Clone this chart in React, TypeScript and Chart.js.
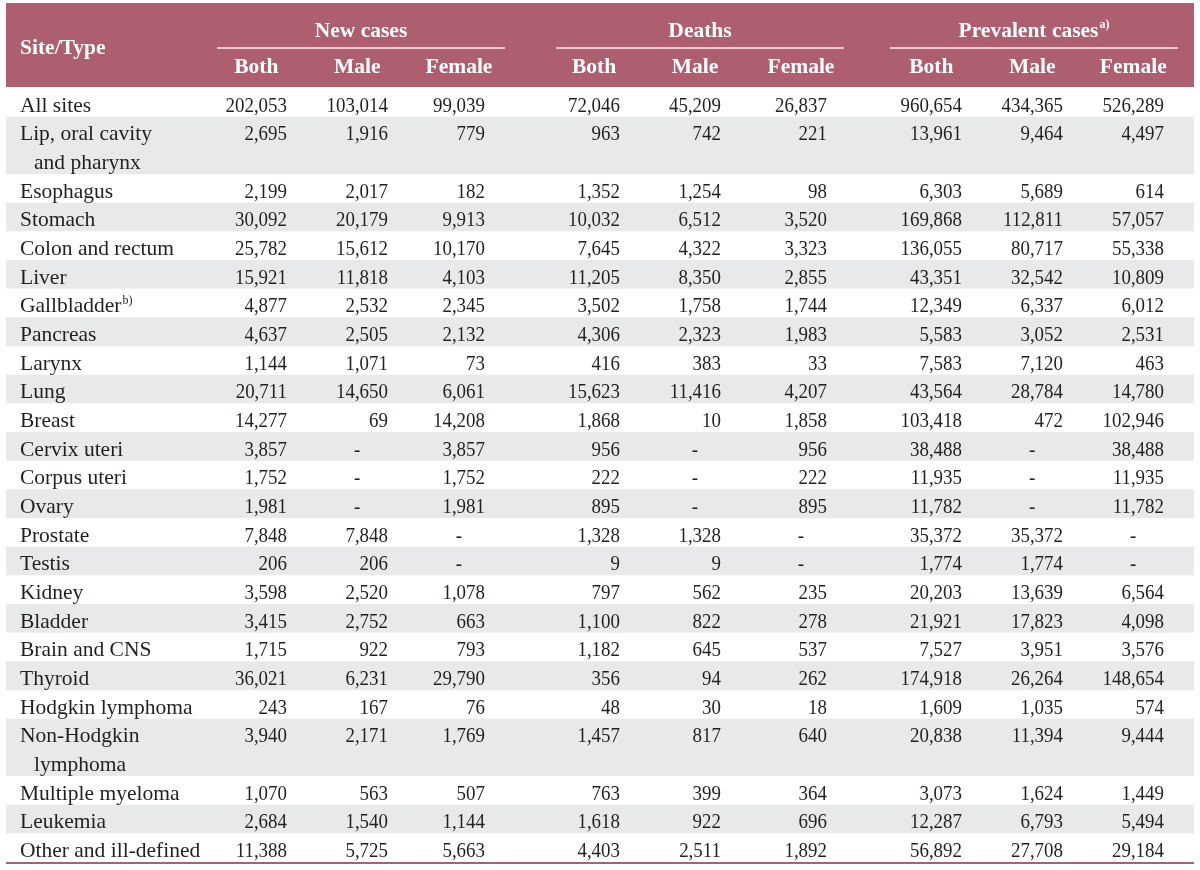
import React, { useEffect, useRef } from 'react';
import { Chart, registerables } from 'chart.js';

Chart.register(...registerables);

// ---------------- data ----------------
const siteLabels: string[] = [
  'All sites',
  'Lip, oral cavity\nand pharynx',
  'Esophagus',
  'Stomach',
  'Colon and rectum',
  'Liver',
  'Gallbladder',
  'Pancreas',
  'Larynx',
  'Lung',
  'Breast',
  'Cervix uteri',
  'Corpus uteri',
  'Ovary',
  'Prostate',
  'Testis',
  'Kidney',
  'Bladder',
  'Brain and CNS',
  'Thyroid',
  'Hodgkin lymphoma',
  'Non-Hodgkin\nlymphoma',
  'Multiple myeloma',
  'Leukemia',
  'Other and ill-defined',
];
const siteNotes: string[] = ['', '', '', '', '', '', 'b)', '', '', '', '', '', '', '', '', '', '', '', '', '', '', '', '', '', ''];

const groupTitles: string[] = ['New cases', 'Deaths', 'Prevalent cases'];
const groupNotes: string[] = ['', '', 'a)'];
const subTitles: string[] = ['Both', 'Male', 'Female'];
const firstHeader = 'Site/Type';

const newBoth = [202053, 2695, 2199, 30092, 25782, 15921, 4877, 4637, 1144, 20711, 14277, 3857, 1752, 1981, 7848, 206, 3598, 3415, 1715, 36021, 243, 3940, 1070, 2684, 11388];
const newMale = [103014, 1916, 2017, 20179, 15612, 11818, 2532, 2505, 1071, 14650, 69, null, null, null, 7848, 206, 2520, 2752, 922, 6231, 167, 2171, 563, 1540, 5725];
const newFemale = [99039, 779, 182, 9913, 10170, 4103, 2345, 2132, 73, 6061, 14208, 3857, 1752, 1981, null, null, 1078, 663, 793, 29790, 76, 1769, 507, 1144, 5663];
const deathBoth = [72046, 963, 1352, 10032, 7645, 11205, 3502, 4306, 416, 15623, 1868, 956, 222, 895, 1328, 9, 797, 1100, 1182, 356, 48, 1457, 763, 1618, 4403];
const deathMale = [45209, 742, 1254, 6512, 4322, 8350, 1758, 2323, 383, 11416, 10, null, null, null, 1328, 9, 562, 822, 645, 94, 30, 817, 399, 922, 2511];
const deathFemale = [26837, 221, 98, 3520, 3323, 2855, 1744, 1983, 33, 4207, 1858, 956, 222, 895, null, null, 235, 278, 537, 262, 18, 640, 364, 696, 1892];
const prevBoth = [960654, 13961, 6303, 169868, 136055, 43351, 12349, 5583, 7583, 43564, 103418, 38488, 11935, 11782, 35372, 1774, 20203, 21921, 7527, 174918, 1609, 20838, 3073, 12287, 56892];
const prevMale = [434365, 9464, 5689, 112811, 80717, 32542, 6337, 3052, 7120, 28784, 472, null, null, null, 35372, 1774, 13639, 17823, 3951, 26264, 1035, 11394, 1624, 6793, 27708];
const prevFemale = [526289, 4497, 614, 57057, 55338, 10809, 6012, 2531, 463, 14780, 102946, 38488, 11935, 11782, null, null, 6564, 4098, 3576, 148654, 574, 9444, 1449, 5494, 29184];

// ---------------- layout / style ----------------
const W = 1200;
const H = 870;
const HEADER_TOP = 3;
const BODY_TOP = 88;
const BODY_BOTTOM = 862;
const TABLE_LEFT = 6;
const TABLE_RIGHT = 1194;
const COL_RIGHT = [287, 388, 485, 620, 721, 827, 962, 1063, 1164];
const GROUP_SPAN = [[217, 505], [556, 844], [890, 1178]];
const LABEL_X = 20;
const INDENT_X = 34;

const HEADER_BG = '#ad5f6f';
const HEADER_RULE = '#f0c7cf';
const STRIPE = '#e8e9eb';
const TEXT = '#231f20';
const FONT_FAMILY = '"Liberation Serif", "Times New Roman", serif';
const FS = 21.5;
const NUM_SX = 0.88;

const columns = [newBoth, newMale, newFemale, deathBoth, deathMale, deathFemale, prevBoth, prevMale, prevFemale];

const lineCounts = siteLabels.map((l) => l.split('\n').length);
const totalLines = lineCounts.reduce((a, b) => a + b, 0);
const rowStart: number[] = [];
{
  let acc = 0;
  for (const c of lineCounts) {
    rowStart.push(acc);
    acc += c;
  }
}

const fmt = (v: number | null) => (v === null ? '-' : v.toLocaleString('en-US'));

const tablePlugin = {
  id: 'tableDraw',
  afterDraw(chart: any) {
    const ctx: CanvasRenderingContext2D = chart.ctx;
    const y = chart.scales.y;
    const x = chart.scales.x;
    const px = (v: number) => x.getPixelForValue(v);
    ctx.save();

    // body stripes
    siteLabels.forEach((_, i) => {
      if (i % 2 === 1) {
        const t = y.getPixelForValue(rowStart[i]);
        const b = y.getPixelForValue(rowStart[i] + lineCounts[i]);
        ctx.fillStyle = STRIPE;
        ctx.fillRect(px(TABLE_LEFT), t, px(TABLE_RIGHT) - px(TABLE_LEFT), b - t);
      }
    });

    // header background
    ctx.fillStyle = HEADER_BG;
    ctx.fillRect(px(TABLE_LEFT), HEADER_TOP, px(TABLE_RIGHT) - px(TABLE_LEFT), y.getPixelForValue(0) - 1 - HEADER_TOP);

    // column centers from widest number
    ctx.font = `${FS}px ${FONT_FAMILY}`;
    const centers = columns.map((col, c) => {
      let mw = 0;
      col.forEach((v) => {
        if (v !== null) mw = Math.max(mw, ctx.measureText(fmt(v)).width * NUM_SX);
      });
      return px(COL_RIGHT[c]) - mw / 2;
    });

    // header text
    ctx.fillStyle = '#ffffff';
    ctx.font = `bold ${FS}px ${FONT_FAMILY}`;
    ctx.textAlign = 'left';
    ctx.textBaseline = 'alphabetic';
    ctx.fillText(firstHeader, px(LABEL_X), 54);

    groupTitles.forEach((g, gi) => {
      const [a, b] = GROUP_SPAN[gi];
      const cx = (px(a) + px(b)) / 2;
      ctx.font = `bold ${FS}px ${FONT_FAMILY}`;
      const w = ctx.measureText(g).width;
      ctx.font = `bold 12px ${FONT_FAMILY}`;
      const nw = groupNotes[gi] ? ctx.measureText(groupNotes[gi]).width + 1 : 0;
      const start = cx - (w + nw) / 2;
      ctx.font = `bold ${FS}px ${FONT_FAMILY}`;
      ctx.textAlign = 'left';
      ctx.fillText(g, start, 37);
      if (groupNotes[gi]) {
        ctx.font = `bold 12px ${FONT_FAMILY}`;
        ctx.fillText(groupNotes[gi], start + w + 1, 28);
      }
      ctx.strokeStyle = HEADER_RULE;
      ctx.lineWidth = 2;
      ctx.beginPath();
      ctx.moveTo(px(a), 48);
      ctx.lineTo(px(b), 48);
      ctx.stroke();
    });

    ctx.font = `bold ${FS}px ${FONT_FAMILY}`;
    ctx.textAlign = 'center';
    centers.forEach((cx, c) => {
      ctx.fillText(subTitles[c % 3], cx, 73);
    });

    // body text
    ctx.fillStyle = TEXT;
    siteLabels.forEach((label, i) => {
      const lines = label.split('\n');
      lines.forEach((ln, li) => {
        const t = y.getPixelForValue(rowStart[i] + li);
        const b = y.getPixelForValue(rowStart[i] + li + 1);
        const base = (t + b) / 2 + 9.2;
        ctx.font = `${FS}px ${FONT_FAMILY}`;
        ctx.textAlign = 'left';
        const lx = px(li === 0 ? LABEL_X : INDENT_X);
        ctx.fillText(ln, lx, base);
        if (li === 0 && siteNotes[i]) {
          const w = ctx.measureText(ln).width;
          ctx.font = `12px ${FONT_FAMILY}`;
          ctx.fillText(siteNotes[i], lx + w + 1, base - 8);
        }
      });
      const t0 = y.getPixelForValue(rowStart[i]);
      const b0 = y.getPixelForValue(rowStart[i] + 1);
      const base0 = (t0 + b0) / 2 + 9.2;
      ctx.font = `${FS}px ${FONT_FAMILY}`;
      columns.forEach((col, c) => {
        const v = col[i];
        ctx.save();
        if (v === null) {
          ctx.textAlign = 'center';
          ctx.translate(centers[c], base0);
        } else {
          ctx.textAlign = 'right';
          ctx.translate(px(COL_RIGHT[c]), base0);
        }
        ctx.scale(NUM_SX, 1);
        ctx.fillText(fmt(v), 0, 0);
        ctx.restore();
      });
    });

    // bottom rule
    const yb = y.getPixelForValue(totalLines);
    ctx.fillStyle = HEADER_BG;
    ctx.fillRect(px(TABLE_LEFT), yb, px(TABLE_RIGHT) - px(TABLE_LEFT), 2);

    ctx.restore();
  },
};

export default function App() {
  const ref = useRef<HTMLCanvasElement | null>(null);
  useEffect(() => {
    if (!ref.current) return;
    const chart = new Chart(ref.current, {
      type: 'bar',
      data: { labels: [], datasets: [] },
      options: {
        animation: false,
        responsive: false,
        devicePixelRatio: 1,
        indexAxis: 'y',
        layout: { padding: { top: BODY_TOP, bottom: H - BODY_BOTTOM, left: 0, right: 0 } },
        plugins: { legend: { display: false }, tooltip: { enabled: false }, title: { display: false } },
        scales: {
          x: { type: 'linear', display: false, min: 0, max: W, offset: false },
          y: { type: 'linear', display: false, min: 0, max: totalLines, reverse: true, offset: false },
        },
      },
      plugins: [tablePlugin],
    });
    return () => chart.destroy();
  }, []);
  return (
    <div style={{ position: 'absolute', left: 0, top: 0, width: W, height: H, background: '#ffffff' }}>
      <canvas ref={ref} width={W} height={H} style={{ display: 'block' }} />
    </div>
  );
}
